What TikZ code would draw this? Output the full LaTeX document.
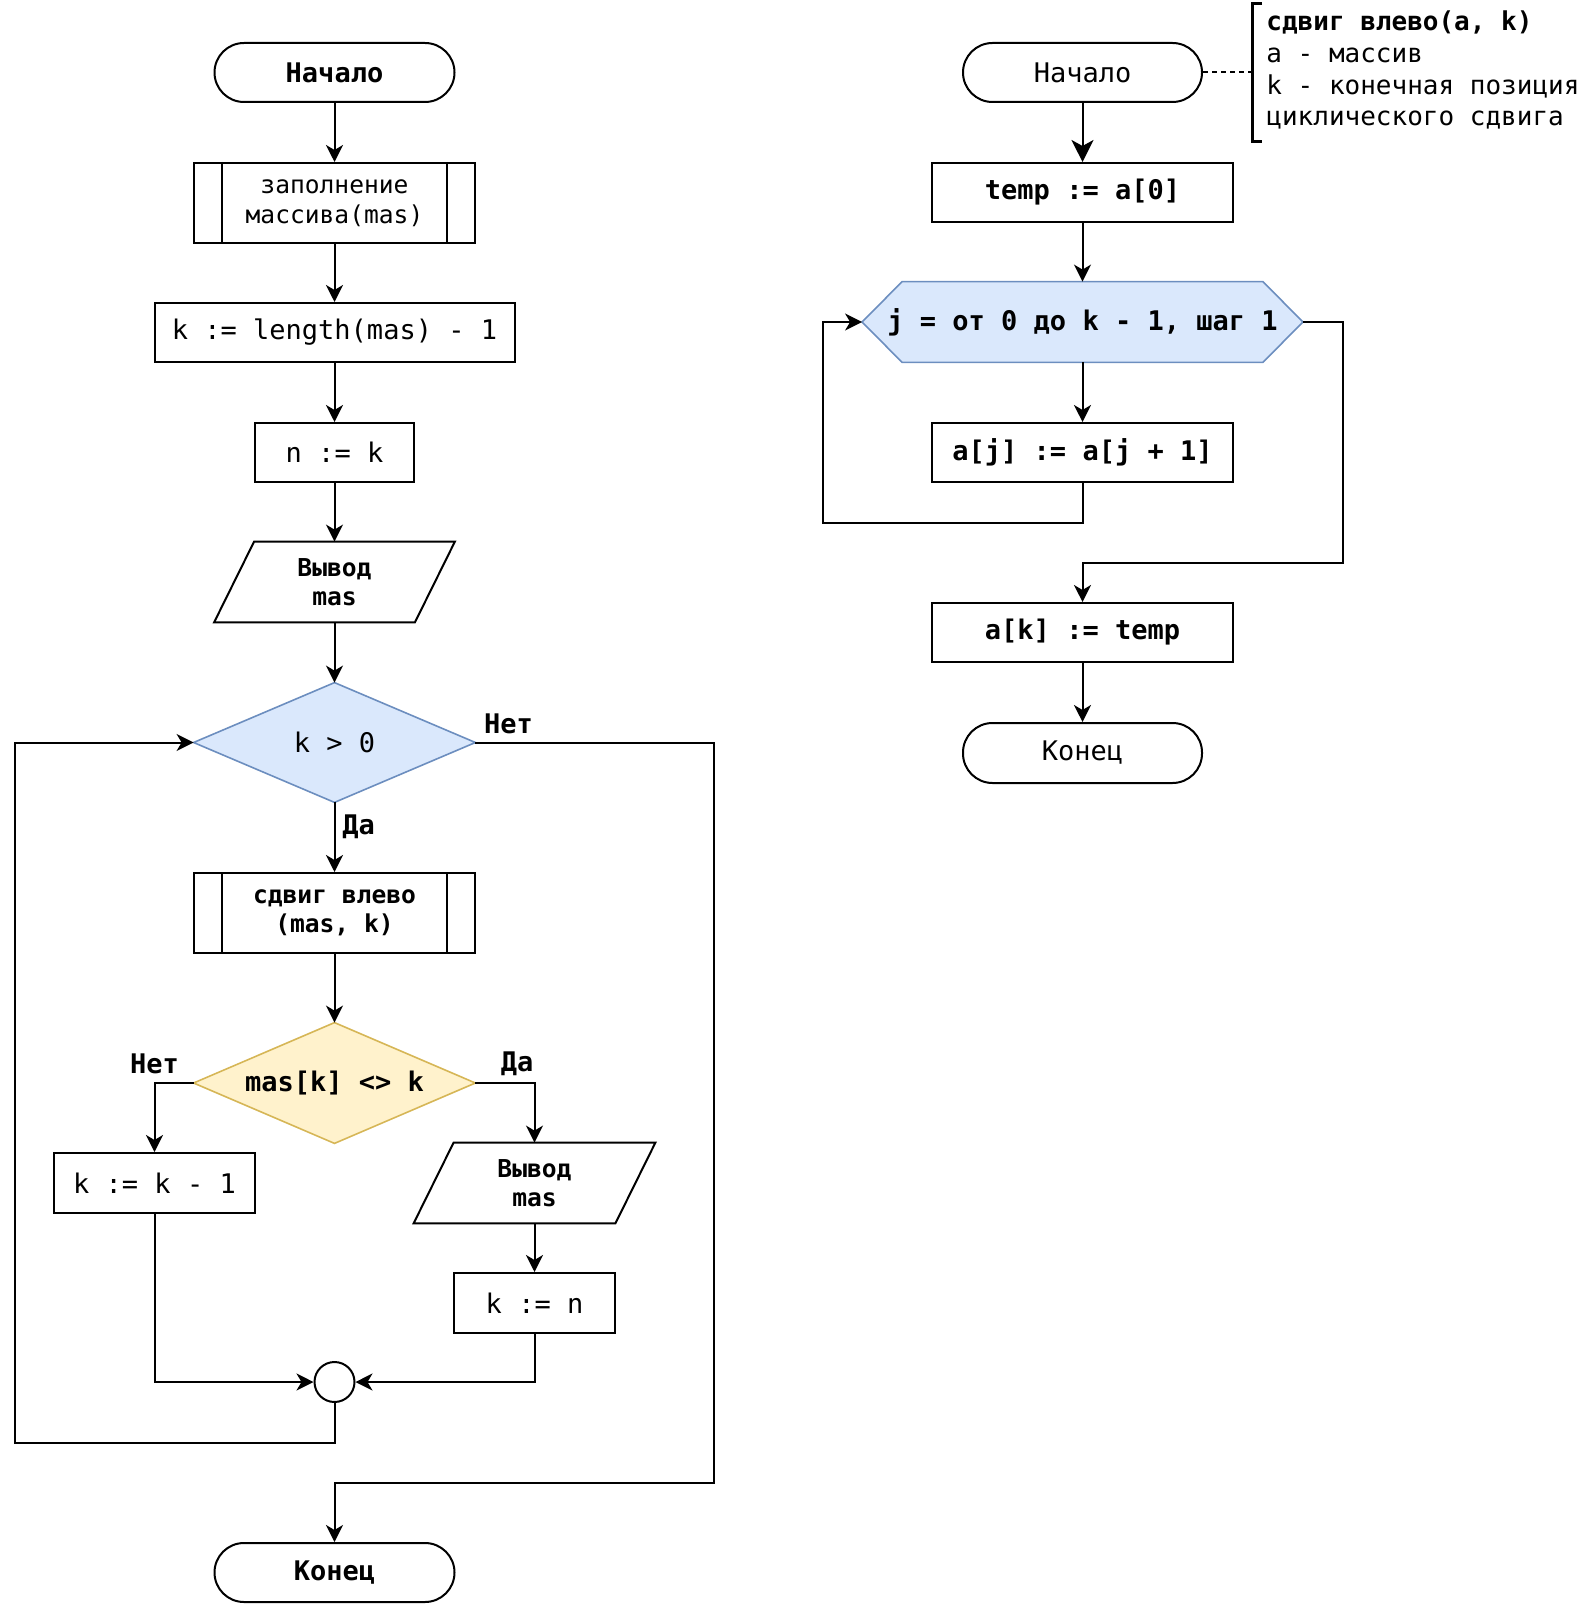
\documentclass[tikz,border=0pt]{standalone}
\usepackage{fontspec}
\newfontfamily\mono{DejaVu Sans Mono}
\usetikzlibrary{arrows.meta,calc}
\pgfdeclarelayer{bg}
\pgfsetlayers{bg,main}
\definecolor{blueF}{HTML}{DAE8FC}
\definecolor{blueS}{HTML}{6C8EBF}
\definecolor{yelF}{HTML}{FFF2CC}
\definecolor{yelS}{HTML}{D6B656}
\begin{document}
\begin{tikzpicture}[x=0.5pt,y=-0.5pt,
  ln/.style={line width=1pt},
  arr/.style={line width=1pt,-{Stealth[length=8.5pt,width=8.5pt,inset=2.5pt]}},
  bigarr/.style={line width=1pt,-{Stealth[length=11pt,width=11pt,inset=3pt]}},
  fm/.style={font=\mono\fontsize{13.5}{16}\selectfont},
  fmb/.style={font=\mono\bfseries\fontsize{13.5}{16}\selectfont},
  fsm/.style={font=\mono\fontsize{12.3}{14.8}\selectfont,align=center},
  fsmb/.style={font=\mono\bfseries\fontsize{12.3}{14.8}\selectfont,align=center},
  term/.style={draw,line width=1pt,rounded corners=14.75pt,minimum width=120pt,minimum height=29.5pt,inner sep=0pt},
  box/.style={draw,line width=1pt,minimum height=29.5pt,inner sep=0pt},
  shp/.style={draw=none,inner sep=0pt}]
\useasboundingbox (0,0) rectangle (1582,1604);

% ---------- left flowchart ----------
\node[term,fmb] (s1) at (334.5,72.5) {Начало};
\node[box,fsm,minimum width=140.5pt,minimum height=40pt] (fill) at (334.5,203) {заполнение\\массива(mas)};
\draw[ln] ([xshift=14.5pt]fill.north west) -- ([xshift=14.5pt]fill.south west);
\draw[ln] ([xshift=-14.5pt]fill.north east) -- ([xshift=-14.5pt]fill.south east);
\node[box,fm,minimum width=180pt] (k0) at (334.5,332.5) {k := length(mas) - 1};
\node[box,fm,minimum width=79.5pt] (nk) at (334.5,452.5) {n := k};
\node[shp,fsmb,minimum width=120pt,minimum height=40pt] (o1) at (334.5,582) {Вывод\\mas};
\node[shp,fm,minimum width=140.5pt,minimum height=59.5pt] (d1) at (334.5,742.5) {k > 0};
\node[box,fsmb,minimum width=140.5pt,minimum height=40pt] (sv) at (334.5,913) {сдвиг влево\\(mas, k)};
\draw[ln] ([xshift=14.5pt]sv.north west) -- ([xshift=14.5pt]sv.south west);
\draw[ln] ([xshift=-14.5pt]sv.north east) -- ([xshift=-14.5pt]sv.south east);
\node[shp,fmb,minimum width=140.5pt,minimum height=60pt] (d2) at (334.5,1083) {mas[k] <> k};
\node[box,fm,minimum width=100.5pt,minimum height=30pt] (kd) at (154.5,1183) {k := k - 1};
\node[shp,fsmb,minimum width=120.5pt,minimum height=40pt] (o2) at (534.5,1183) {Вывод\\mas};
\node[box,fm,minimum width=80.5pt,minimum height=30pt] (kn) at (534.5,1303) {k := n};
\node[draw,circle,line width=1pt,minimum size=20pt,inner sep=0pt] (j) at (334.5,1382) {};
\node[term,fmb] (e1) at (334.5,1572.5) {Конец};

\coordinate (lp) at (14.5,1443);
\coordinate (rb) at (714,1483);

\node[fmb] (no1) at (508.5,723.5) {Нет};
\node[fmb,anchor=west,inner sep=0pt] (yes1) at (342,827) {Да};
\node[fmb] (no2) at (154.5,1064) {Нет};
\node[fmb] (yes2) at (517,1064) {Да};

% ---------- right flowchart ----------
\node[term,fm,minimum width=119.5pt] (s2) at (1082.5,72.5) {Начало};
\node[box,fmb,minimum width=150.5pt] (t) at (1082.5,192.5) {temp := a[0]};
\node[shp,fmb,minimum width=220pt,minimum height=40pt] (h) at (1082.5,322) {j = от 0 до k - 1, шаг 1};
\node[box,fmb,minimum width=150.5pt] (aj) at (1082.5,452.5) {a[j] := a[j + 1]};
\node[box,fmb,minimum width=150.5pt] (ak) at (1082.5,632.5) {a[k] := temp};
\node[term,fm,minimum width=119.5pt,minimum height=30pt] (e2) at (1082.5,753) {Конец};

\coordinate (rl) at (823,523);
\coordinate (re) at (1343,563);

% annotation
\coordinate (bt) at (1252,4);
\coordinate (bb) at (1252,142);
\coordinate (bm) at (1252,72.5);
\draw[line width=1.5pt] ([xshift=5pt]bt) -- (bt) -- (bb) -- ([xshift=5pt]bb);
\draw[ln,dash pattern=on 2.5pt off 2pt] (s2.east) -- (bm);
\node[anchor=west,align=left,inner sep=0pt,font=\mono\fontsize{13}{15.85}\selectfont] (note) at (1266,70.3)
  {\textbf{сдвиг влево(a, k)}\\a - массив\\k - конечная позиция\\циклического сдвига};

% ---------- shapes on background ----------
\begin{pgfonlayer}{bg}
\draw[line width=0.8pt,draw=blueS,fill=blueF] (d1.west) -- (d1.north) -- (d1.east) -- (d1.south) -- cycle;
\draw[line width=0.8pt,draw=yelS,fill=yelF] (d2.west) -- (d2.north) -- (d2.east) -- (d2.south) -- cycle;
\draw[line width=0.8pt,draw=blueS,fill=blueF] (h.west) -- ([xshift=20pt]h.north west) -- ([xshift=-20pt]h.north east)
  -- (h.east) -- ([xshift=-20pt]h.south east) -- ([xshift=20pt]h.south west) -- cycle;
\draw[ln] (o1.south west) -- ([xshift=20pt]o1.north west) -- (o1.north east) -- ([xshift=-20pt]o1.south east) -- cycle;
\draw[ln] (o2.south west) -- ([xshift=20pt]o2.north west) -- (o2.north east) -- ([xshift=-20pt]o2.south east) -- cycle;
\end{pgfonlayer}

% ---------- connectors ----------
\draw[arr] (s1) -- (fill);
\draw[arr] (fill) -- (k0);
\draw[arr] (k0) -- (nk);
\draw[arr] (nk) -- (o1);
\draw[arr] (o1) -- (d1);
\draw[arr] (d1) -- (sv);
\draw[arr] (sv) -- (d2);
\draw[arr] (d2.west) -| (kd.north);
\draw[arr] (d2.east) -| (o2.north);
\draw[arr] (o2) -- (kn);
\draw[arr] (kd.south) |- (j.west);
\draw[arr] (kn.south) |- (j.east);
\draw[arr] (j.south) |- (lp) |- (d1.west);
\draw[arr] (d1.east) -| (rb) -| (e1.north);

\draw[bigarr] (s2) -- (t);
\draw[arr] (t) -- (h);
\draw[arr] (h) -- (aj);
\draw[arr] (aj.south) |- (rl) |- (h.west);
\draw[arr] (h.east) -| (re) -| (ak.north);
\draw[arr] (ak) -- (e2);
\end{tikzpicture}
\end{document}
